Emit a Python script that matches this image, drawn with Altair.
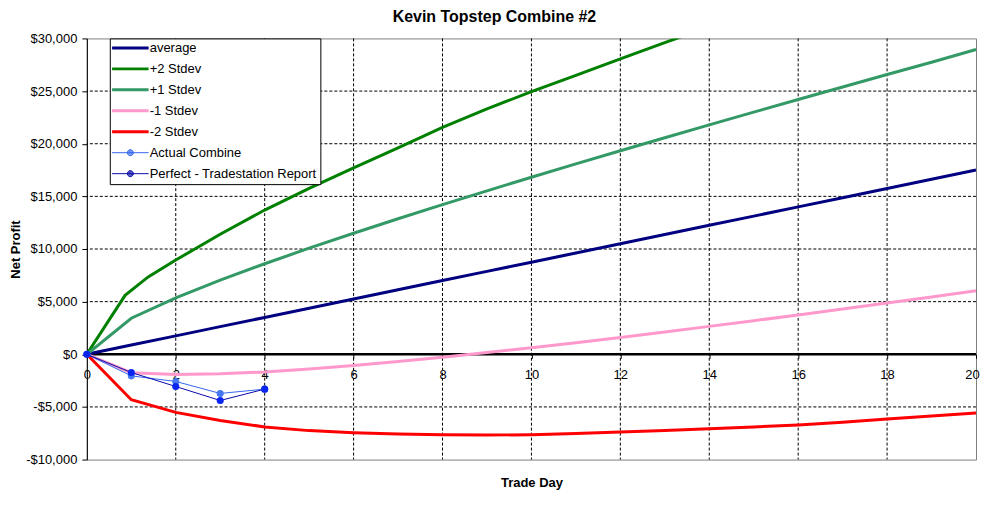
import altair as alt
import pandas as pd

# ---------------- data ----------------
days = list(range(21))
average = [0, 875, 1750, 2625, 3500, 4375, 5250, 6125, 7000, 7875, 8750,
           9625, 10500, 11375, 12250, 13125, 14000, 14875, 15750, 16625, 17500]
plus1 = [0, 3425, 5356, 7042, 8600, 10077, 11496, 12872, 14212, 15525, 16814,
         18082, 19333, 20569, 21791, 23001, 24200, 25389, 26569, 27740, 28950]
minus1 = [0, -1750, -1920, -1860, -1680, -1400, -1070, -690, -280, 160, 620,
          1100, 1600, 2120, 2650, 3190, 3740, 4300, 4870, 5450, 6030]
minus2 = [0, -4320, -5520, -6280, -6900, -7250, -7460, -7580, -7650, -7670, -7640,
          -7520, -7390, -7230, -7070, -6900, -6720, -6450, -6150, -5870, -5580]
plus2_days = [0, 0.86, 1.38, 2, 3, 4, 5, 6, 7, 8, 9, 10, 11, 12, 13, 14]
plus2 = [0, 5600, 7350, 8950, 11400, 13700, 15750, 17700, 19600, 21550,
         23300, 24950, 26500, 28050, 29600, 31100]
combine_days = [0, 1, 2, 3, 4]
actual_combine = [0, -2050, -2580, -3720, -3310]
perfect_report = [0, -1730, -3060, -4390, -3310]

series_names = ["average", "+2 Stdev", "+1 Stdev", "-1 Stdev", "-2 Stdev",
                "Actual Combine", "Perfect - Tradestation Report"]
line_colors = ["#000080", "#008000", "#339966", "#FF99CC", "#FF0000",
               "#3366EE", "#0A0AA8"]
marker_series = ["Actual Combine", "Perfect - Tradestation Report"]
marker_colors = ["#4477F0", "#0A24F0"]

y_ticks = [-10000, -5000, 0, 5000, 10000, 15000, 20000, 25000, 30000]
x_ticks = [0, 2, 4, 6, 8, 10, 12, 14, 16, 18, 20]
y_grid = [-5000, 5000, 10000, 15000, 20000, 25000]
x_grid = [2, 4, 6, 8, 10, 12, 14, 16, 18]

# ---------------- tables ----------------
rows = []
for name, xs, ys in [("average", days, average), ("+2 Stdev", plus2_days, plus2),
                     ("+1 Stdev", days, plus1), ("-1 Stdev", days, minus1),
                     ("-2 Stdev", days, minus2),
                     ("Actual Combine", combine_days, actual_combine),
                     ("Perfect - Tradestation Report", combine_days, perfect_report)]:
    sw = 1 if name in marker_series else 3
    for x, y in zip(xs, ys):
        rows.append({"series": name, "day": x, "value": y, "sw": sw})
lines_df = pd.DataFrame(rows)

pts = []
for name, col, ys in [("Actual Combine", marker_colors[0], actual_combine),
                      ("Perfect - Tradestation Report", marker_colors[1], perfect_report)]:
    for x, y in zip(combine_days, ys):
        pts.append({"series": name, "day": x, "value": y, "mcolor": col})
pts_df = pd.DataFrame(pts)

xgrid_df = pd.DataFrame({"day": x_grid})
ygrid_df = pd.DataFrame({"value": y_grid})
zero_df = pd.DataFrame({"value": [0]})

# ---------------- legend symbol paths ----------------
def circle(cx, r):
    return (f"M{cx - r:.3f},0A{r:.3f},{r:.3f} 0 1,0 {cx + r:.3f},0"
            f"A{r:.3f},{r:.3f} 0 1,0 {cx - r:.3f},0Z")

line_path = "M-1.2,0L4.9,0"
dot_path = line_path + "".join(circle(1.85, r) for r in [0.083, 0.25, 0.417, 0.5])
marker_list = "[" + ",".join("'" + s + "'" for s in marker_series) + "]"
type_expr = f"indexof({marker_list}, datum.value) >= 0 ? '{dot_path}' : '{line_path}'"
sw_expr = f"indexof({marker_list}, datum.value) >= 0 ? 1 : 3"

FONT = "Liberation Sans"

x_scale = alt.Scale(domain=[0, 20], nice=False, zero=False)
y_scale = alt.Scale(domain=[-10000, 30000], nice=False)

grid_x = alt.Chart(xgrid_df).mark_rule(color="black", strokeWidth=1, strokeDash=[3, 2]).encode(
    x=alt.X("day:Q", scale=x_scale)
)
grid_y = alt.Chart(ygrid_df).mark_rule(color="black", strokeWidth=1, strokeDash=[3, 2]).encode(
    y=alt.Y("value:Q", scale=y_scale)
)
zero_line = alt.Chart(zero_df).mark_rule(color="black", strokeWidth=2.5).encode(
    y=alt.Y("value:Q", scale=y_scale)
)

lines = alt.Chart(lines_df).mark_line(clip=True).encode(
    x=alt.X("day:Q", scale=x_scale,
            axis=alt.Axis(values=x_ticks, title="Trade Day", offset=-105.5, domain=False,
                          grid=False, tickSize=4, tickColor="black", labelPadding=10,
                          labelFlush=False, titlePadding=95, format="d",
                          labelOffset={"condition": {"test": "datum.value == 20", "value": -4},
                                       "value": 0})),
    y=alt.Y("value:Q", scale=y_scale,
            axis=alt.Axis(values=y_ticks, title="Net Profit", grid=False, tickSize=5,
                          tickColor="black", domainColor="black", labelPadding=5,
                          titlePadding=3,
                          labelExpr="(datum.value < 0 ? '-' : '') + '$' + format(abs(datum.value), ',')")),
    color=alt.Color("series:N", scale=alt.Scale(domain=series_names, range=line_colors),
                    legend=alt.Legend(title=None, orient="none", legendX=23, legendY=0,
                                      padding=3, fillColor="white", strokeColor="black",
                                      cornerRadius=0, labelFont=FONT, labelFontSize=13,
                                      labelColor="black", labelLimit=300, symbolSize=144,
                                      symbolType=alt.ExprRef(type_expr),
                                      symbolStrokeWidth=alt.ExprRef(sw_expr),
                                      labelOffset=24, rowPadding=7)),
    strokeWidth=alt.StrokeWidth("sw:Q", scale=None, legend=None),
    detail="series:N",
)

points = alt.Chart(pts_df).mark_circle(size=50, opacity=1).encode(
    x=alt.X("day:Q", scale=x_scale),
    y=alt.Y("value:Q", scale=y_scale),
    fill=alt.Fill("mcolor:N", scale=None, legend=None),
)

chart = alt.layer(grid_x, grid_y, zero_line, lines, points).properties(
    width=891, height=422,
    autosize=alt.AutoSizeParams(type="none"),
    padding={"left": 79, "top": 30, "right": 4, "bottom": 34},
    title=alt.TitleParams("Kevin Topstep Combine #2", font=FONT, fontSize=16,
                          fontWeight="bold", anchor="middle", frame="bounds",
                          offset=7, color="black"),
    background="white",
).configure_axis(
    labelFont=FONT, labelFontSize=13, labelColor="black",
    titleFont=FONT, titleFontSize=13, titleFontWeight="bold", titleColor="black",
).configure_view(
    stroke="#808080", strokeWidth=1
)

chart.save("out.html", embed_options={"renderer": "svg", "actions": False})
